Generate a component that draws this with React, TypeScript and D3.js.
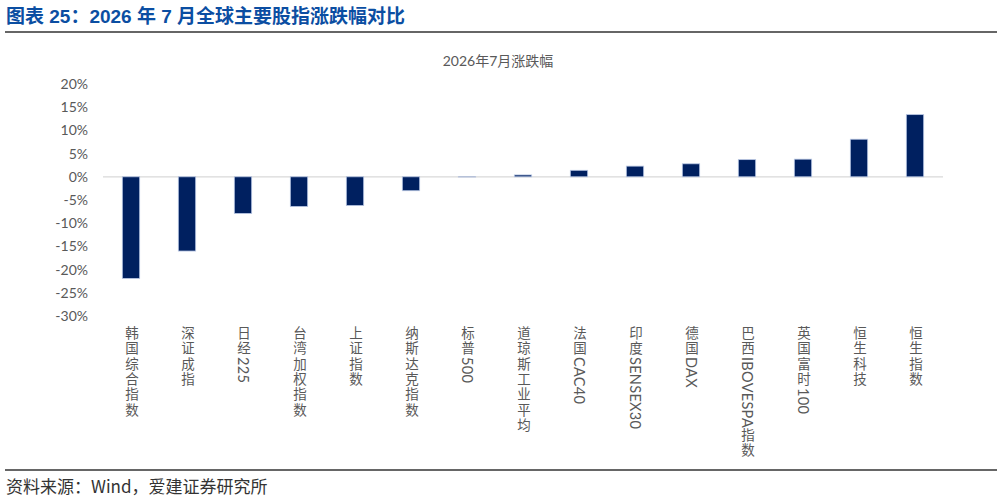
import React from "react";
import * as d3 from "d3";

const categories = [
  "韩国综合指数",
  "深证成指",
  "日经225",
  "台湾加权指数",
  "上证指数",
  "纳斯达克指数",
  "标普500",
  "道琼斯工业平均",
  "法国CAC40",
  "印度SENSEX30",
  "德国DAX",
  "巴西IBOVESPA指数",
  "英国富时100",
  "恒生科技",
  "恒生指数",
];

// 2026年7月涨跌幅 (%)
const changes = [-21.9, -16.0, -7.9, -6.4, -6.2, -3.0, -0.05, 0.4, 1.4, 2.3, 2.8, 3.7, 3.8, 8.1, 13.4];

const yTicks = [20, 15, 10, 5, 0, -5, -10, -15, -20, -25, -30];

const WIDTH = 997;
const HEIGHT = 502;
const labelFont = "Lato, 'Noto Sans CJK SC', sans-serif";

// split a label into CJK / latin runs so only the CJK glyphs get the wide spacing
const splitRuns = (s: string) => s.match(/[\u4e00-\u9fff]+|[^\u4e00-\u9fff]+/g) ?? [s];

export default function App() {
  const x = d3
    .scaleBand<string>()
    .domain(categories)
    .range([103, 943])
    .paddingInner(0.69)
    .paddingOuter(0.345);

  const y = d3.scaleLinear().domain([-30, 20]).range([316, 84]);

  return (
    <svg
      width={WIDTH}
      height={HEIGHT}
      style={{ position: "absolute", left: 0, top: 0, background: "#fff" }}
    >
      {/* header */}
      <text
        x={6}
        y={23}
        fontSize={19}
        fontWeight="bold"
        fill="#0b4ea2"
        fontFamily="'Liberation Sans', 'Noto Sans CJK SC', sans-serif"
      >
        图表 25：2026 年 7 月全球主要股指涨跌幅对比
      </text>
      <line x1={5} x2={997} y1={32} y2={32} stroke="#333" strokeWidth={1.6} />

      <text
        x={498}
        y={66}
        textAnchor="middle"
        fontSize={14}
        fill="#595959"
        fontFamily={labelFont}
      >
        2026年7月涨跌幅
      </text>

      {/* y axis labels */}
      {yTicks.map((t) => (
        <text
          key={t}
          x={88}
          y={y(t)}
          dy="0.35em"
          textAnchor="end"
          fontSize={14}
          fill="#595959"
          fontFamily={labelFont}
        >
          {`${t}%`}
        </text>
      ))}

      {/* zero line */}
      <line x1={103} x2={943} y1={y(0)} y2={y(0)} stroke="#d9d9d9" strokeWidth={1.2} />

      {/* bars */}
      {categories.map((c, i) => {
        const v = changes[i];
        const y0 = y(Math.max(0, v));
        const h = Math.abs(y(v) - y(0));
        return (
          <rect
            key={c}
            x={x(c)!}
            y={y0}
            width={x.bandwidth()}
            height={h}
            fill="#002060"
            stroke="#b8c6e3"
            strokeWidth={0.8}
          />
        );
      })}

      {/* x labels */}
      {categories.map((c) => (
        <text
          key={c}
          x={(x(c) ?? 0) + x.bandwidth() / 2}
          y={326}
          fontSize={13.5}
          fill="#595959"
          fontFamily={labelFont}
          style={{ writingMode: "vertical-rl" }}
        >
          {splitRuns(c).map((run, k) => (
            <tspan
              key={k}
              letterSpacing={/[\u4e00-\u9fff]/.test(run) ? 1.9 : 0.3}
              fontSize={/[\u4e00-\u9fff]/.test(run) ? 13.5 : 14.5}
            >
              {run}
            </tspan>
          ))}
        </text>
      ))}

      {/* footer */}
      <line x1={5} x2={997} y1={470} y2={470} stroke="#333" strokeWidth={1.6} />
      <text
        x={6}
        y={493}
        fontSize={17}
        fill="#333"
        fontFamily="'Noto Sans CJK SC', sans-serif"
      >
        资料来源：Wind，爱建证券研究所
      </text>
    </svg>
  );
}
